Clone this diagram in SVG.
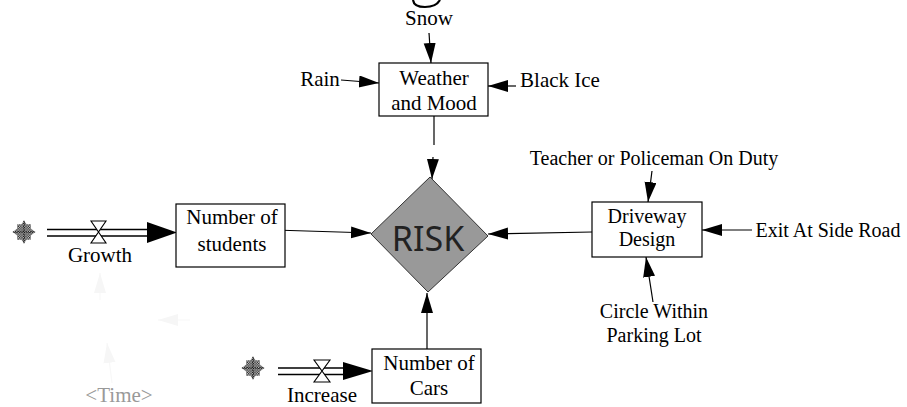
<svg xmlns="http://www.w3.org/2000/svg" width="907" height="407" viewBox="0 0 907 407">
<style>
text.t{font-family:'Liberation Serif','Times New Roman',Times,serif;font-size:21px;fill:#000;text-anchor:middle}
text.r{font-size:20px}
.box{fill:#fff;stroke:#000;stroke-width:1.2}
.lnk{fill:none;stroke:#000;stroke-width:1.2;marker-end:url(#ah)}
.ghost{fill:none;stroke:#f8f8f8;stroke-width:1.2;marker-end:url(#gh)}
.pipe{fill:none;stroke:#000;stroke-width:1.3}
.valve{fill:#fff;stroke:#000;stroke-width:1.1}
.head{fill:#000;stroke:none}
</style>
<defs>
<marker id="ah" markerUnits="userSpaceOnUse" markerWidth="22" markerHeight="14" refX="20" refY="6" orient="auto">
<path d="M0,0 L20,6 L0,12 z" fill="#000"/>
</marker>
<marker id="gh" markerUnits="userSpaceOnUse" markerWidth="22" markerHeight="14" refX="20" refY="6" orient="auto">
<path d="M0,0 L20,6 L0,12 z" fill="#f6f6f6"/>
</marker>
<pattern id="chk" width="3" height="3" patternUnits="userSpaceOnUse">
<rect width="3" height="3" fill="#ddd"/>
<rect width="1.5" height="1.5" fill="#111"/>
<rect x="1.5" y="1.5" width="1.5" height="1.5" fill="#111"/>
</pattern>
<symbol id="cloud" viewBox="-14 -14 28 28" overflow="visible">
<polygon points="0,-13 3,-9 8,-9 8,-4 13,0 8,4 8,9 3,9 0,13 -3,9 -8,9 -8,4 -13,0 -8,-4 -8,-9 -3,-9" fill="url(#chk)" stroke="none"/>
<path d="M-13,0 H13 M0,-13 V13" stroke="#111" stroke-width="1.2" stroke-dasharray="1.5 1"/>
</symbol>
</defs>
<rect width="907" height="407" fill="#fff"/>

<path d="M413,0 Q414,7 425,7 Q436,7 440,0" fill="none" stroke="#000" stroke-width="2.2"/>

<g id="connectors">
<path class="lnk" d="M429,33 L431,63"/>
<path class="lnk" d="M341,80 L379,83"/>
<path class="lnk" d="M516,86 L488,86"/>
<path d="M434,116 L434,145" fill="none" stroke="#000" stroke-width="1.2"/>
<path class="lnk" d="M433,157 L432,179"/>
<path class="lnk" d="M274,230 L371,233"/>
<path class="lnk" d="M592,232 L488,234"/>
<path class="lnk" d="M427,349 L427,293"/>
<path class="lnk" d="M652,171 L648,202"/>
<path class="lnk" d="M752,230 L702,230"/>
<path class="lnk" d="M653,302 L646,257"/>
<path class="ghost" d="M100,300 L100,273"/>
<path class="ghost" d="M190,320 L158,320"/>
<path class="ghost" d="M112,383 L107,343"/>
</g>

<g id="growth-flow">
<use href="#cloud" x="12" y="220" width="24" height="24"/>
<path class="pipe" d="M47,229.5 H150 M47,236 H150"/>
<polygon class="head" points="147,222 177,232.5 147,243"/>
<polygon class="valve" points="91,221 106,221 91,243 106,243"/>
<text class="t" font-family="Liberation Serif, serif" x="100" y="262">Growth</text>
</g>

<g id="increase-flow">
<use href="#cloud" x="241" y="356" width="24" height="24"/>
<path class="pipe" d="M278,368 H346 M278,374.5 H346"/>
<polygon class="head" points="343,362 373,371 343,380"/>
<polygon class="valve" points="314,360 330,360 314,382 330,382"/>
<text class="t" font-family="Liberation Serif, serif" x="322" y="402">Increase</text>
</g>

<g id="snow"><text class="t" font-family="Liberation Serif, serif" x="429" y="25">Snow</text></g>
<g id="rain"><text class="t" font-family="Liberation Serif, serif" x="320" y="86">Rain</text></g>
<g id="black-ice"><text class="t" font-family="Liberation Serif, serif" x="560" y="87">Black Ice</text></g>

<g id="weather">
<rect class="box" x="379" y="63" width="109" height="53"/>
<text class="t" font-family="Liberation Serif, serif" x="434" y="85">Weather</text>
<text class="t" font-family="Liberation Serif, serif" x="434" y="110">and Mood</text>
</g>

<g id="risk">
<polygon points="430,177 488,236 428,292 371,234" fill="#999" stroke="#333" stroke-width="1"/>
<text x="428" y="251" font-family="Noto Sans, Open Sans, sans-serif" font-size="34" fill="#222" text-anchor="middle">RISK</text>
</g>

<g id="students">
<rect class="box" x="176" y="204" width="109" height="63"/>
<text class="t" font-family="Liberation Serif, serif" x="232" y="224">Number of</text>
<text class="t" font-family="Liberation Serif, serif" x="232" y="251">students</text>
</g>

<g id="cars">
<rect class="box" x="372" y="349" width="109" height="54"/>
<text class="t" font-family="Liberation Serif, serif" x="429" y="370">Number of</text>
<text class="t" font-family="Liberation Serif, serif" x="429" y="395">Cars</text>
</g>

<g id="driveway">
<rect class="box" x="592" y="202" width="110" height="55"/>
<text class="t r" font-family="Liberation Serif, serif" x="647" y="223">Driveway</text>
<text class="t r" font-family="Liberation Serif, serif" x="647" y="246">Design</text>
</g>

<g id="teacher"><text class="t r" font-family="Liberation Serif, serif" x="654" y="165">Teacher or Policeman On Duty</text></g>
<g id="exit"><text class="t r" font-family="Liberation Serif, serif" x="828" y="237">Exit At Side Road</text></g>
<g id="circle">
<text class="t r" font-family="Liberation Serif, serif" x="654" y="318">Circle Within</text>
<text class="t r" font-family="Liberation Serif, serif" x="654" y="342">Parking Lot</text>
</g>

<g id="time"><text class="t" font-family="Liberation Serif, serif" x="119" y="402" style="fill:#999">&lt;Time&gt;</text></g>
</svg>
